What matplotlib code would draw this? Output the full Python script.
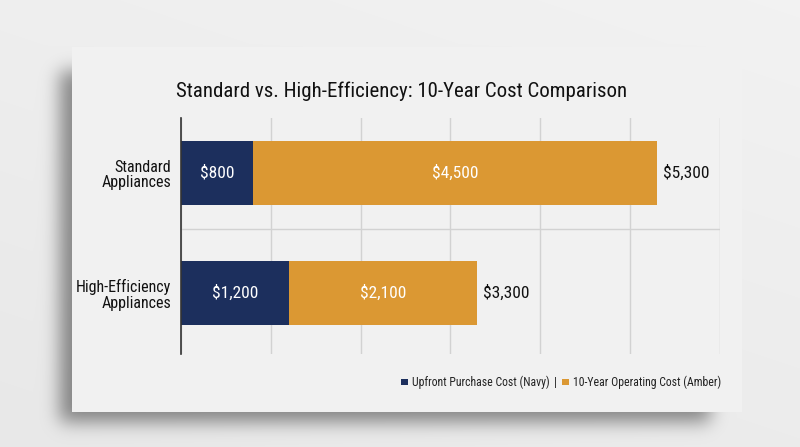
import matplotlib
matplotlib.use('Agg')
import matplotlib.pyplot as plt
import numpy as np
from matplotlib.patches import Rectangle

# data
categories = ['High-Efficiency\nAppliances', 'Standard\nAppliances']
upfront = [1200, 800]
operating = [2100, 4500]
series_names = ['Upfront Purchase Cost (Navy)', '10-Year Operating Cost (Amber)']

NAVY = '#1c2f5d'
AMBER = '#db9833'
FONT = ['Roboto Condensed', 'Liberation Sans Narrow', 'Roboto', 'DejaVu Sans']
plt.rcParams['font.family'] = FONT

W, H = 800, 447
fig = plt.figure(figsize=(8, 4.47), dpi=100)

############ background: page gradient + soft card shadow ############
yy, xx = np.mgrid[0:H, 0:W]
bg = 0.91 + 0.025 * (1 - yy / H) + 0.015 * (xx / W)

def blur1d(a, sigma, axis):
    r = int(3 * sigma)
    k = np.exp(-0.5 * (np.arange(-r, r + 1) / sigma) ** 2)
    k /= k.sum()
    return np.apply_along_axis(lambda v: np.convolve(v, k, mode='same'), axis, a)

card = (72, 47, 742, 412)   # x0, y0, x1, y1 in pixels (top-left origin)
mask = np.zeros((H, W))
mask[card[1] + 24:card[3] + 10, card[0] - 12:card[2] - 32] = 1.0
mask = blur1d(blur1d(mask, 9, 0), 9, 1)
shade = bg - 0.40 * mask
img = np.dstack([shade, shade, shade]).clip(0, 1)

bgax = fig.add_axes([0, 0, 1, 1])
bgax.imshow(img, extent=(0, W, H, 0), aspect='auto', interpolation='bilinear')
bgax.add_patch(Rectangle((card[0], card[1]), card[2] - card[0], card[3] - card[1],
                         facecolor='#f1f1f1', edgecolor='none'))
bgax.set_xlim(0, W)
bgax.set_ylim(H, 0)
bgax.axis('off')

############################ chart ###################################
ax = fig.add_axes([181 / W, 1 - 354 / H, (720 - 181) / W, (354 - 118) / H])
ax.set_facecolor('none')
ypos = np.arange(len(categories))
h = 0.54
ax.barh(ypos, upfront, height=h, color=NAVY, zorder=3)
ax.barh(ypos, operating, left=upfront, height=h, color=AMBER, zorder=3)

for i in range(len(categories)):
    u = upfront[i]
    o = operating[i]
    ax.text(u / 2, ypos[i], '${:,}'.format(u), color='white', ha='center', va='center',
            fontsize=12.5, zorder=4)
    ax.text(u + o / 2, ypos[i], '${:,}'.format(o), color='white', ha='center', va='center',
            fontsize=12.5, zorder=4)
    ax.annotate('${:,}'.format(u + o), xy=(u + o, ypos[i]), xytext=(4, 0),
                textcoords='offset points', ha='left', va='center', fontsize=12.5,
                color='#111111', zorder=4)

ax.set_xlim(0, 6000)
ax.set_ylim(-0.51, 1.46)
ax.set_xticks(np.arange(0, 6001, 1000))
ax.set_xticklabels([])
ax.grid(axis='x', color='#d2d2d2', linewidth=1.0, zorder=0)
ax.axhline(0.53, color='#d2d2d2', linewidth=1.0, zorder=1)
ax.set_yticks(ypos)
ax.set_yticklabels(categories, fontsize=11.5, color='#111111', ha='right',
                   multialignment='right', linespacing=1.05)
ax.tick_params(axis='both', length=0)
ax.tick_params(axis='y', pad=7)
for s in ['top', 'right', 'bottom']:
    ax.spines[s].set_visible(False)
ax.spines['left'].set_color('#333333')
ax.spines['left'].set_linewidth(1.2)
ax.spines['left'].set_zorder(5)

fig.text(402 / W, 1 - 91 / H, 'Standard vs. High-Efficiency: 10-Year Cost Comparison',
         ha='center', va='center', fontsize=15, color='#111111')

# legend row, laid out right to left from x=721 px
r = fig.canvas.get_renderer()
ly = 382
sq = 6.5
lfs = 8.5

def put(x_right, s):
    t = bgax.text(x_right, ly, s, ha='right', va='center', fontsize=lfs, color='#222222')
    bb = t.get_window_extent(renderer=r)
    return x_right - bb.width

x = put(721, series_names[1])
x -= 4 + sq
bgax.add_patch(Rectangle((x, ly - sq / 2), sq, sq, facecolor=AMBER, edgecolor='none'))
x = put(x - 5, '|')
x = put(x - 5, series_names[0])
x -= 4 + sq
bgax.add_patch(Rectangle((x, ly - sq / 2), sq, sq, facecolor=NAVY, edgecolor='none'))

fig.savefig('out.png', dpi=100)
